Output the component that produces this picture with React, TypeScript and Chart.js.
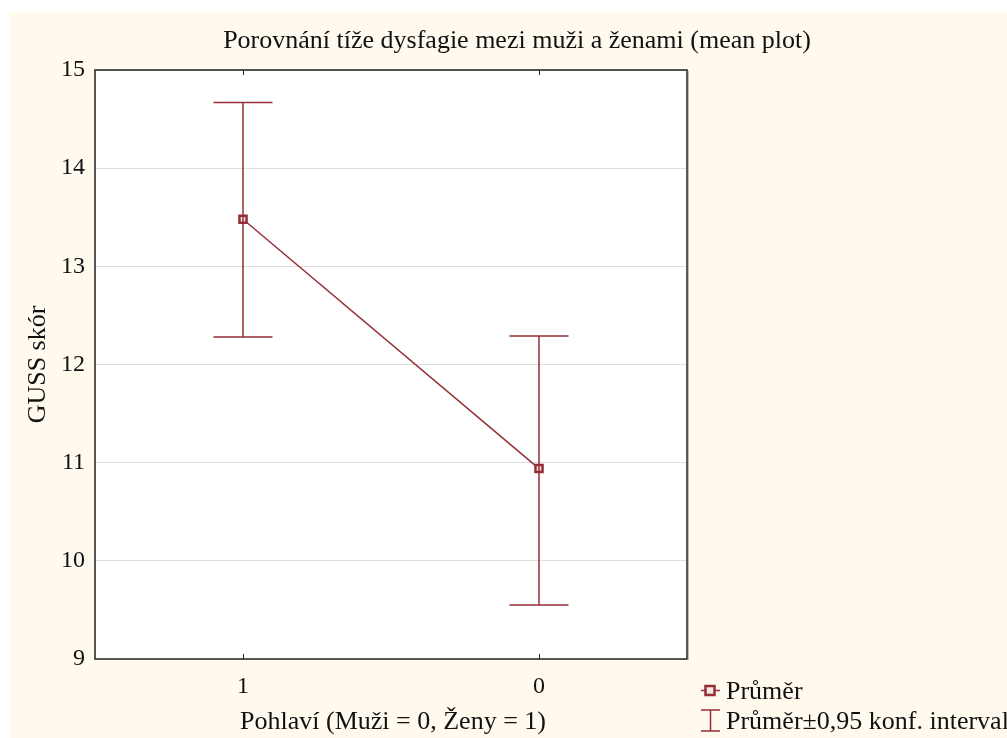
import React, { useEffect, useRef } from "react";
import { Chart, registerables } from "chart.js";

Chart.register(...registerables);

const categories = ["1", "0"];
const means = [13.48, 10.94];
const ciUpper = [14.67, 12.29];
const ciLower = [12.28, 9.55];
const yTicks = [9, 10, 11, 12, 13, 14, 15];

const TITLE = "Porovnání tíže dysfagie mezi muži a ženami (mean plot)";
const X_TITLE = "Pohlaví (Muži = 0, Ženy = 1)";
const Y_TITLE = "GUSS skór";
const LEGEND_MEAN = "Průměr";
const LEGEND_CI = "Průměr±0,95 konf. interval";

const RED = "#952e37";
const FONT = "'Liberation Serif', 'DejaVu Serif', serif";

const decorPlugin = {
  id: "decor",
  beforeDraw(chart: any) {
    const { ctx, width, height, chartArea } = chart;
    ctx.save();
    ctx.fillStyle = "#ffffff";
    ctx.fillRect(0, 0, width, height);
    ctx.fillStyle = "#fff9ee";
    ctx.fillRect(9, 12, width - 9, height - 12);
    ctx.fillStyle = "#ffffff";
    ctx.fillRect(chartArea.left, chartArea.top, chartArea.right - chartArea.left, chartArea.bottom - chartArea.top);
    ctx.restore();
  },
  afterDatasetsDraw(chart: any) {
    const { ctx, scales } = chart;
    const x = scales.x;
    const y = scales.y;
    ctx.save();
    ctx.strokeStyle = RED;
    ctx.lineWidth = 1.5;
    const cap = 29.5;
    categories.forEach((_, i) => {
      const px = x.getPixelForValue(i);
      const yu = y.getPixelForValue(ciUpper[i]);
      const yl = y.getPixelForValue(ciLower[i]);
      ctx.beginPath();
      ctx.moveTo(px, yu);
      ctx.lineTo(px, yl);
      ctx.moveTo(px - cap, yu);
      ctx.lineTo(px + cap, yu);
      ctx.moveTo(px - cap, yl);
      ctx.lineTo(px + cap, yl);
      ctx.stroke();
    });
    ctx.restore();
  },
  afterDraw(chart: any) {
    const { ctx, chartArea, scales } = chart;
    const x = scales.x;
    ctx.save();
    ctx.strokeStyle = "#222222";
    ctx.lineWidth = 1.5;
    ctx.strokeRect(chartArea.left, chartArea.top, chartArea.right - chartArea.left, chartArea.bottom - chartArea.top);
    ctx.strokeStyle = "rgba(0,0,0,0.25)";
    ctx.lineWidth = 1;
    ctx.beginPath();
    ctx.moveTo(chartArea.right + 1.5, chartArea.top + 1);
    ctx.lineTo(chartArea.right + 1.5, chartArea.bottom + 1);
    ctx.stroke();
    ctx.strokeStyle = "#222222";
    ctx.lineWidth = 1;
    categories.forEach((_, i) => {
      const px = Math.round(x.getPixelForValue(i)) + 0.5;
      ctx.beginPath();
      ctx.moveTo(px, chartArea.top);
      ctx.lineTo(px, chartArea.top + 5);
      ctx.moveTo(px, chartArea.bottom);
      ctx.lineTo(px, chartArea.bottom - 5);
      ctx.stroke();
    });
    ctx.fillStyle = "#111111";
    ctx.textBaseline = "alphabetic";
    ctx.font = `26px ${FONT}`;
    ctx.textAlign = "center";
    ctx.fillText(TITLE, 517, 48);
    ctx.fillText(X_TITLE, (chartArea.left + chartArea.right) / 2 + 2, 729);
    ctx.save();
    ctx.translate(45, (chartArea.top + chartArea.bottom) / 2);
    ctx.rotate(-Math.PI / 2);
    ctx.fillText(Y_TITLE, 0, 0);
    ctx.restore();
    // legend
    ctx.strokeStyle = RED;
    ctx.lineWidth = 1.5;
    ctx.beginPath();
    ctx.moveTo(701, 690.5);
    ctx.lineTo(720, 690.5);
    ctx.stroke();
    ctx.fillStyle = "#f6e4e4";
    ctx.lineWidth = 2.5;
    ctx.fillRect(705.5, 686, 9, 9);
    ctx.strokeRect(705.5, 686, 9, 9);
    ctx.lineWidth = 1.5;
    ctx.beginPath();
    ctx.moveTo(710.5, 710);
    ctx.lineTo(710.5, 731);
    ctx.moveTo(701, 710);
    ctx.lineTo(720, 710);
    ctx.moveTo(701, 731);
    ctx.lineTo(720, 731);
    ctx.stroke();
    ctx.fillStyle = "#111111";
    ctx.textAlign = "left";
    ctx.font = `26px ${FONT}`;
    ctx.fillText(LEGEND_MEAN, 726, 699);
    ctx.fillText(LEGEND_CI, 726, 729);
    ctx.restore();
  },
};

export default function App() {
  const ref = useRef<HTMLCanvasElement | null>(null);
  useEffect(() => {
    if (!ref.current) return;
    const chart = new Chart(ref.current, {
      type: "line",
      data: {
        labels: categories,
        datasets: [
          {
            label: LEGEND_MEAN,
            data: means,
            borderColor: RED,
            borderWidth: 1.5,
            pointStyle: "rect",
            pointRadius: 5,
            pointBorderWidth: 2.5,
            pointBackgroundColor: "#f6e4e4",
            pointBorderColor: RED,
            fill: false,
            tension: 0,
          },
        ],
      },
      options: {
        responsive: false,
        animation: false,
        devicePixelRatio: 1,
        layout: { padding: { left: 0, top: 70, right: 320, bottom: 0 } },
        plugins: { legend: { display: false }, title: { display: false }, tooltip: { enabled: false } },
        scales: {
          x: {
            type: "category",
            offset: true,
            grid: { display: false, drawTicks: false },
            border: { display: false },
            ticks: { padding: 13, color: "#111111", font: { family: FONT, size: 24 } },
            afterFit(scale: any) {
              scale.height = 79;
            },
          },
          y: {
            min: 9,
            max: 15,
            afterBuildTicks(scale: any) {
              scale.ticks = yTicks.map((v) => ({ value: v }));
            },
            grid: { color: "#dddddd", lineWidth: 1, drawTicks: false },
            border: { display: false },
            ticks: { padding: 10, color: "#111111", font: { family: FONT, size: 24 } },
            afterFit(scale: any) {
              scale.width = 95;
            },
          },
        },
      },
      plugins: [decorPlugin],
    } as any);
    return () => chart.destroy();
  }, []);
  return (
    <div style={{ position: "fixed", left: 0, top: 0, width: 1007, height: 738 }}>
      <canvas ref={ref} width={1007} height={738} style={{ width: 1007, height: 738, display: "block" }} />
    </div>
  );
}
